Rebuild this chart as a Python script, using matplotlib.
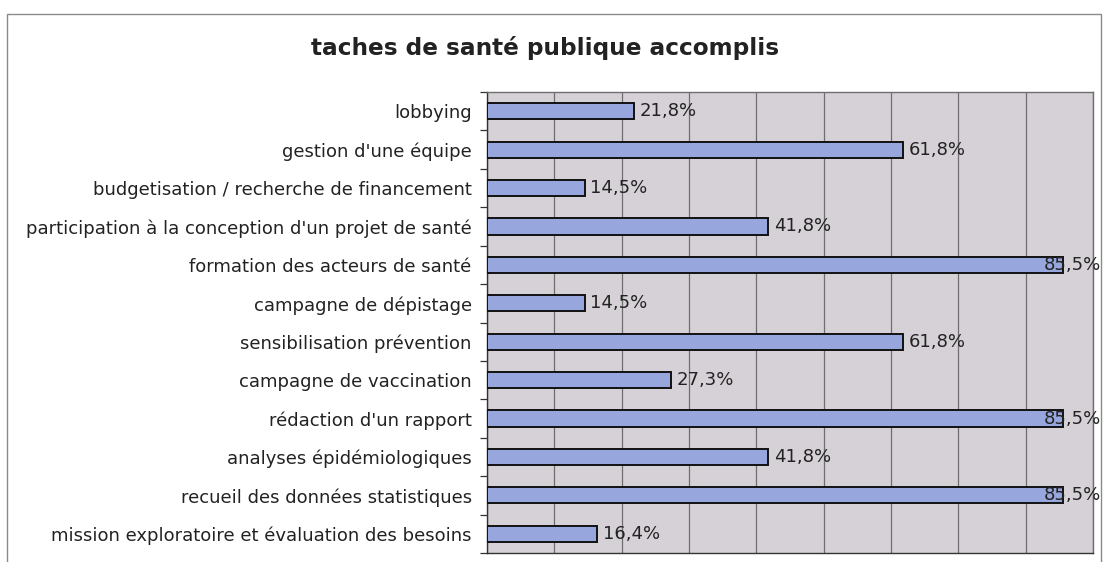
import matplotlib.pyplot as plt
from matplotlib.patches import Rectangle
from matplotlib.ticker import MultipleLocator, FixedLocator, NullFormatter

# donnees
taches = [
    "lobbying",
    "gestion d'une équipe",
    "budgetisation / recherche de financement",
    "participation à la conception d'un projet de santé",
    "formation des acteurs de santé",
    "campagne de dépistage",
    "sensibilisation prévention",
    "campagne de vaccination",
    "rédaction d'un rapport",
    "analyses épidémiologiques",
    "recueil des données statistiques",
    "mission exploratoire et évaluation des besoins",
]
pourcentages = [21.8, 61.8, 14.5, 41.8, 85.5, 14.5, 61.8, 27.3, 85.5, 41.8, 85.5, 16.4]
etiquettes = [f"{v:.1f}%".replace(".", ",") for v in pourcentages]

plt.rcParams['font.family'] = ['DejaVu Sans']

fig = plt.figure(figsize=(11.05, 5.62), dpi=100)
fig.patch.set_facecolor('white')

# cadre exterieur du graphique
fig.patches.append(Rectangle((7 / 1105, -0.05), (1101 - 7) / 1105, 1.05 - 14 / 562,
                             transform=fig.transFigure, fill=False,
                             edgecolor='#8a8a8a', linewidth=1.0))

ax = fig.add_axes([487 / 1105, 1 - 553 / 562, (1093 - 487) / 1105, (553 - 92) / 562])
ax.set_facecolor('#d6d1d6')

y = list(range(len(taches)))
ax.barh(y, pourcentages, height=0.42, color='#97a6dc', edgecolor='#111111',
        linewidth=1.4, zorder=3)

ax.set_xlim(0, 90)
ax.set_ylim(len(taches) - 0.5, -0.5)
ax.xaxis.set_major_locator(MultipleLocator(10))
ax.grid(axis='x', color='#6e6e6e', linewidth=0.9, zorder=1)
ax.tick_params(axis='x', length=0, labelbottom=False)

ax.set_yticks(y)
ax.set_yticklabels(taches, fontsize=13, color='#222222')
ax.tick_params(axis='y', which='major', length=0, pad=11)
ax.yaxis.set_minor_locator(FixedLocator([i + 0.5 for i in range(-1, len(taches))]))
ax.yaxis.set_minor_formatter(NullFormatter())
ax.tick_params(axis='y', which='minor', length=5, width=0.9, color='#333333', direction='out')

for s in ['left', 'bottom']:
    ax.spines[s].set_color('#333333')
    ax.spines[s].set_linewidth(1.0)
for s in ['top', 'right']:
    ax.spines[s].set_color('#6e6e6e')
    ax.spines[s].set_linewidth(1.0)

for i, (v, lab) in enumerate(zip(pourcentages, etiquettes)):
    # les etiquettes trop longues sont repoussees dans le cadre
    dx = 4 if v < 80 else -14
    ax.annotate(lab, xy=(v, i), xytext=(dx, 0), textcoords='offset points',
                ha='left', va='center', fontsize=13, color='#222222',
                zorder=4, annotation_clip=False)

fig.text(545 / 1105, 1 - 48 / 562, "taches de santé publique accomplis",
         ha='center', va='center', fontsize=16.7, fontweight='bold', color='#222222')

fig.savefig('out.png', dpi=100)
